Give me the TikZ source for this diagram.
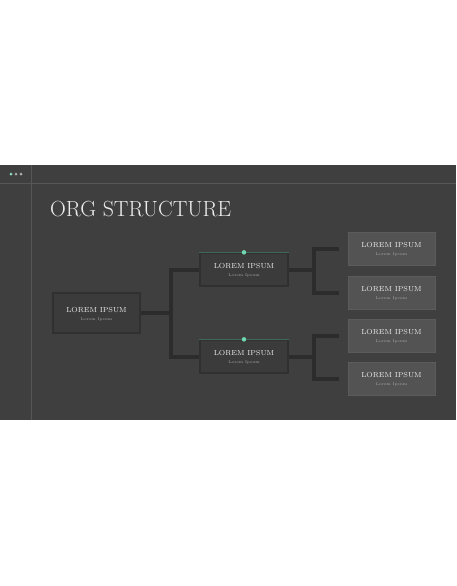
\documentclass[tikz,border=0pt]{standalone}
\usetikzlibrary{calc}
\definecolor{slidebg}{HTML}{3F3F3F}
\definecolor{gridline}{HTML}{565656}
\definecolor{conn}{HTML}{2C2C2C}
\definecolor{insetfill}{HTML}{3B3B3B}
\definecolor{insetedge}{HTML}{303030}
\definecolor{rightfill}{HTML}{535353}
\definecolor{rightedge}{HTML}{5B5B5B}
\definecolor{mint}{HTML}{6FD6B0}
\definecolor{mintline}{HTML}{3E6A5C}
\definecolor{subtext}{HTML}{A8A8A8}
\definecolor{titletext}{HTML}{EDEDED}
\tikzset{
  insetbox/.style={draw=insetedge, line width=1.3pt, fill=insetfill, inner sep=0pt},
  rightbox/.style={draw=rightedge, line width=0.8pt, fill=rightfill, inner sep=0pt, minimum width=87pt, minimum height=33pt},
  connline/.style={draw=conn, line width=4pt},
  boxlabel/.style={text=titletext, font=\fontsize{7.3}{8}\selectfont, inner sep=0pt, anchor=base},
  boxsub/.style={text=subtext, font=\fontsize{4}{4}\selectfont, inner sep=0pt, anchor=base},
  dot/.style={circle, inner sep=0pt, minimum size=3pt}
}
\begin{document}
\begin{tikzpicture}[x=1pt,y=-1pt]
\useasboundingbox (0,0) rectangle (456,586);
\fill[white] (0,0) rectangle (456,586);
\fill[slidebg] (0,165) rectangle (456,420);
\draw[gridline, line width=0.8pt] (0,183) -- (456,183);
\draw[gridline, line width=0.8pt] (31,165) -- (31,420);
\node[dot, fill=mint!80] (d1) at (11,174) {};
\node[dot, fill=gray!70] (d2) at (16,174) {};
\node[dot, fill=gray!60] (d3) at (21,174) {};
\node[text=titletext, anchor=base west, inner sep=0pt, font=\fontsize{21.9}{22}\selectfont] (title) at (50,216) {ORG STRUCTURE};

% boxes
\node[insetbox, minimum width=87pt, minimum height=40pt] (root) at (96.5,313) {};
\node[insetbox, minimum width=88pt, minimum height=33pt] (m1) at (244,269.5) {};
\node[insetbox, minimum width=88pt, minimum height=33pt] (m2) at (244,356.5) {};
\node[rightbox] (r1) at (391.5,248.5) {};
\node[rightbox] (r2) at (391.5,292.5) {};
\node[rightbox] (r3) at (391.5,335.5) {};
\node[rightbox] (r4) at (391.5,378.5) {};

% top accents of middle boxes
\draw[mintline, line width=1.4pt] (m1.north west) -- (m1.north east);
\draw[mintline, line width=1.4pt] (m2.north west) -- (m2.north east);
\node[dot, fill=mint, minimum size=4.5pt] (m1dot) at (m1.north) {};
\node[dot, fill=mint, minimum size=4.5pt] (m2dot) at (m2.north) {};

% labels
\foreach \b in {root, m1, m2, r1, r2, r3, r4}{
  \node[boxlabel] at ($(\b.center)+(0,-1)$) {LOREM IPSUM};
  \node[boxsub] at ($(\b.center)+(0,7)$) {Lorem Ipsum};
}

% connectors
\coordinate (jL) at (170.5,313);
\draw[connline] (root.east) -- (jL);
\draw[connline] (m1.west) -| (jL) |- (m2.west);
\draw[connline] (m1.east) -- ($(m1.east)+(25.5,0)$) coordinate (jA);
\draw[connline] ($(r1.west)+(-9,0)$) -| (jA) |- ($(r2.west)+(-9,0)$);
\draw[connline] (m2.east) -- ($(m2.east)+(25.5,0)$) coordinate (jB);
\draw[connline] ($(r3.west)+(-9,0)$) -| (jB) |- ($(r4.west)+(-9,0)$);
\end{tikzpicture}
\end{document}
